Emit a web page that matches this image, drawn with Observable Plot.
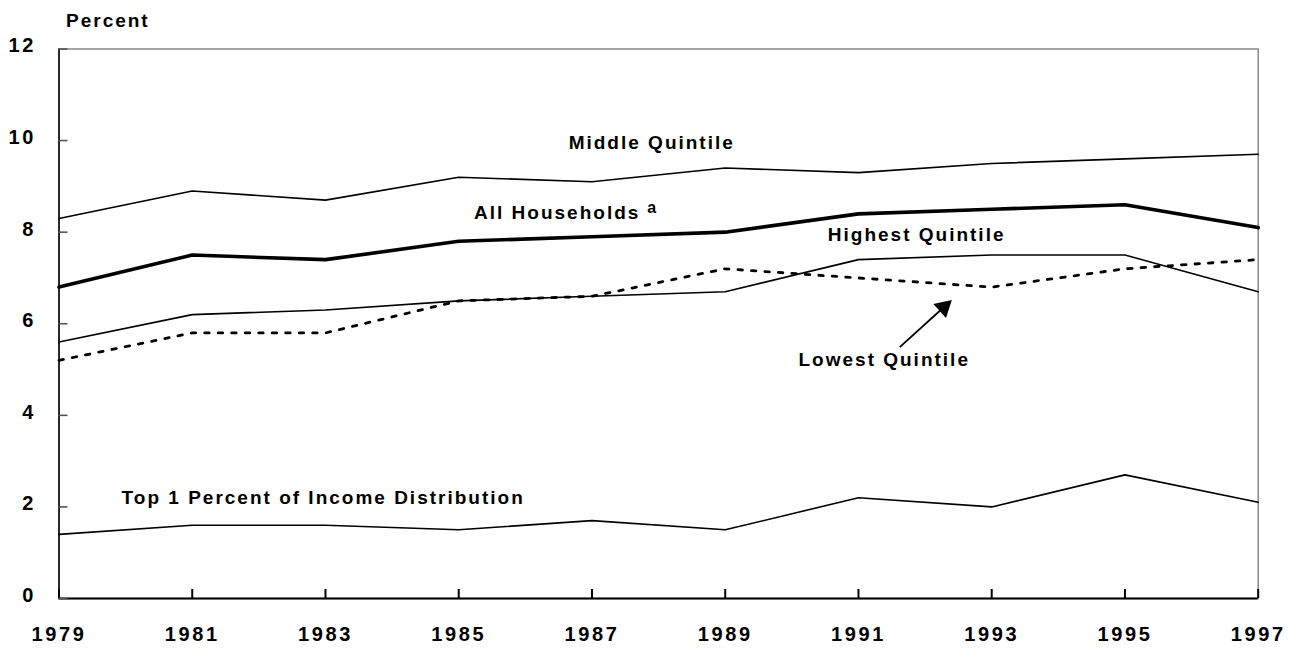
<!DOCTYPE html>
<html>
<head>
<meta charset="utf-8">
<script src="https://cdn.jsdelivr.net/npm/d3@7"></script>
<script src="https://cdn.jsdelivr.net/npm/@observablehq/plot@0.6"></script>
<style>
  html, body { margin: 0; padding: 0; background: #fff; }
  #chart svg { display: block; }
  #chart svg g[aria-label="x-axis tick label"] text,
  #chart svg g[aria-label="y-axis tick label"] text { letter-spacing: 2.6px; }
</style>
</head>
<body>
<div id="chart"></div>
<script>
// ---- data ----
const years = [1979, 1981, 1983, 1985, 1987, 1989, 1991, 1993, 1995, 1997];
const middleQuintile = [8.3, 8.9, 8.7, 9.2, 9.1, 9.4, 9.3, 9.5, 9.6, 9.7];
const allHouseholds  = [6.8, 7.5, 7.4, 7.8, 7.9, 8.0, 8.4, 8.5, 8.6, 8.1];
const highestQuintile = [5.6, 6.2, 6.3, 6.5, 6.6, 6.7, 7.4, 7.5, 7.5, 6.7];
const lowestQuintile  = [5.2, 5.8, 5.8, 6.5, 6.6, 7.2, 7.0, 6.8, 7.2, 7.4];
const top1Percent     = [1.4, 1.6, 1.6, 1.5, 1.7, 1.5, 2.2, 2.0, 2.7, 2.1];
const yTicks = [0, 2, 4, 6, 8, 10, 12];

// series labels (data-space anchor points)
const labels = [
  {text: "Middle Quintile", x: 1986.65, y: 9.94},
  {text: "All Households", x: 1985.23, y: 8.43},
  {text: "Highest Quintile", x: 1990.54, y: 7.93},
  {text: "Lowest Quintile", x: 1990.10, y: 5.20},
  {text: "Top 1 Percent of Income Distribution", x: 1979.94, y: 2.19}
];
const footnote = [{text: "a", x: 1987.83, y: 8.53}];
const arrowTail = {x: 1991.62, y: 5.49};
const arrowHead = {x: 1992.28, y: 6.36};

const mk = (vals) => years.map((yr, i) => ({year: yr, value: vals[i]}));

const W = 1296, H = 648;
const mL = 58.5, mR = 38.3, mT = 48.5, mB = 50;
const frameW = W - mL - mR, frameH = H - mT - mB;

const chart = Plot.plot({
  width: W,
  height: H,
  marginLeft: mL,
  marginRight: mR,
  marginTop: mT,
  marginBottom: mB,
  style: {fontFamily: "'Liberation Sans', Arial, sans-serif", fontWeight: "bold", fontSize: "19px", letterSpacing: "2px", color: "#000", background: "#fff"},
  x: {domain: [1979, 1997]},
  y: {domain: [0, 12]},
  marks: [
    Plot.frame({stroke: "#888", strokeWidth: 1.5}),
    // axes labels
    Plot.axisX(years, {tickSize: 0, tickPadding: 28, tickFormat: d => String(d), label: null, fontSize: 20, fontWeight: "bold"}),
    Plot.axisY(yTicks, {tickSize: 0, tickPadding: 23, tickFormat: d => String(d), label: null, dy: -3, fontSize: 20, fontWeight: "bold"}),
    Plot.ruleX([1979], {stroke: "#000", strokeWidth: 1.5}),
    Plot.ruleY([0], {stroke: "#000", strokeWidth: 2}),
    // inward ticks
    Plot.ruleX(years, {x: d => d, insetTop: frameH - 9, stroke: "#000", strokeWidth: 2}),
    Plot.ruleY(yTicks, {y: d => d, insetRight: frameW - 9, stroke: "#555", strokeWidth: 1.6}),
    // series
    Plot.line(mk(middleQuintile), {x: "year", y: "value", stroke: "#000", strokeWidth: 1.6}),
    Plot.line(mk(allHouseholds), {x: "year", y: "value", stroke: "#000", strokeWidth: 3.6}),
    Plot.line(mk(highestQuintile), {x: "year", y: "value", stroke: "#000", strokeWidth: 1.6}),
    Plot.line(mk(lowestQuintile), {x: "year", y: "value", stroke: "#000", strokeWidth: 2.8, strokeDasharray: "4.5,9"}),
    Plot.line(mk(top1Percent), {x: "year", y: "value", stroke: "#000", strokeWidth: 1.6}),
    // labels
    Plot.text(labels, {x: "x", y: "y", text: "text", textAnchor: "start", fill: "#000", fontSize: 19, fontWeight: "bold"}),
    Plot.text(footnote, {x: "x", y: "y", text: "text", textAnchor: "start", fill: "#000", fontSize: 16, fontWeight: "bold"}),
    // "Percent" axis title
    Plot.text(["Percent"], {frameAnchor: "top-left", lineAnchor: "middle", dx: 7, dy: -28, textAnchor: "start", fill: "#000", fontSize: 19, fontWeight: "bold"}),
    // arrow
    Plot.link([{x1: arrowTail.x, y1: arrowTail.y, x2: arrowHead.x, y2: arrowHead.y}], {x1: "x1", y1: "y1", x2: "x2", y2: "y2", stroke: "#000", strokeWidth: 1.8}),
    Plot.dot([arrowHead], {x: "x", y: "y", symbol: "triangle2", r: 9, fill: "#000", stroke: "none", rotate: 48})
  ]
});
document.getElementById("chart").appendChild(chart);
</script>
</body>
</html>
